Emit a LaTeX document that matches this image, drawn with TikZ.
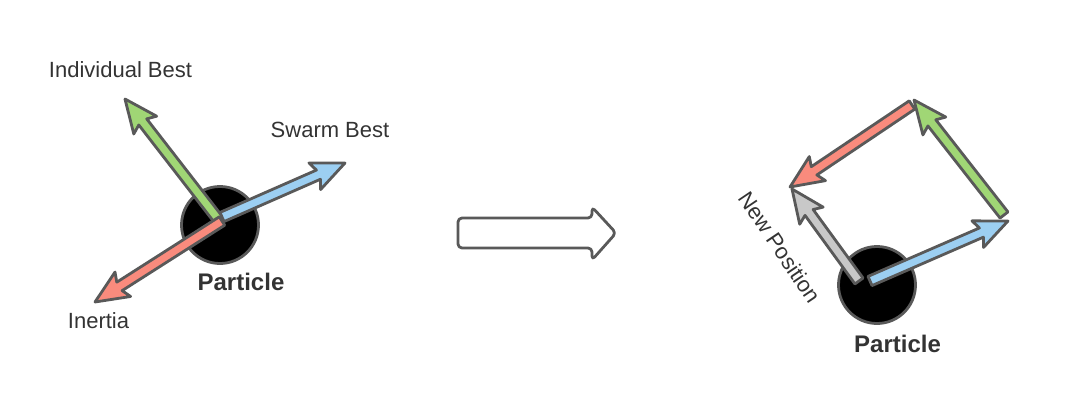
\documentclass[tikz,border=0pt]{standalone}
\usepackage{fontspec}
\setmainfont{Liberation Sans}
\usetikzlibrary{calc}
\definecolor{edgegray}{HTML}{595959}
\definecolor{txtgray}{HTML}{333333}
\definecolor{agreen}{HTML}{A0D675}
\definecolor{ablue}{HTML}{9CCFF2}
\definecolor{ared}{HTML}{F98B7D}
\definecolor{agray}{HTML}{C8C8C8}
\tikzset{
  arrowline/.style={draw=edgegray, line width=2.8pt, line join=round},
  particle/.style={circle, draw=edgegray, fill=black, line width=2.8pt, minimum size=77pt, inner sep=0pt},
  lbl/.style={text=txtgray, font=\fontsize{22}{26}\selectfont, inner sep=0pt, anchor=base},
  plbl/.style={text=txtgray, font=\bfseries\fontsize{24}{28}\selectfont, inner sep=0pt, anchor=base},
}
\newcommand{\blockarr}[3]{%
  \coordinate (h1) at ($(#3)!29pt!(#2)$);
  \coordinate (h2) at ($(#3)!33pt!(#2)$);
  \draw[arrowline, fill=#1]
    ($(#2)!5pt!90:(#3)$) -- ($(h1)!5pt!90:(#3)$) -- ($(h2)!14.5pt!90:(#3)$) -- (#3)
    -- ($(h2)!14.5pt!-90:(#3)$) -- ($(h1)!5pt!-90:(#3)$) -- ($(#2)!5pt!-90:(#3)$) -- cycle;
}
\begin{document}
\begin{tikzpicture}[x=1pt, y=-1pt]
\useasboundingbox (0,0) rectangle (1071,405);
% ---- left: particle and its three vectors
\node[particle] (p1) at (220,225) {};
\coordinate (gT1) at (218,219);
\coordinate (gH1) at (125,99);
\coordinate (bT1) at (222,217);
\coordinate (bH1) at (345,163);
\coordinate (rT1) at (222,221);
\coordinate (rH1) at (95,302);
\blockarr{agreen}{gT1}{gH1}
\blockarr{ablue}{bT1}{bH1}
\blockarr{ared}{rT1}{rH1}
\node[lbl] (ib) at (120.5,77) {Individual Best};
\node[lbl] (sb) at (330,137) {Swarm Best};
\node[lbl] (in) at (98.5,328) {Inertia};
\node[plbl] (pl1) at (241,290) {Particle};
% ---- middle hollow arrow
\draw[draw=edgegray, line width=2.8pt, rounded corners=4pt, line join=round]
  (458,218) -- (592,218) -- (592,207) -- (616,233) -- (592,260) -- (592,248) -- (458,248) -- cycle;
% ---- right: particle and the summed vectors
\node[particle] (p2) at (877,285) {};
\coordinate (yT2) at (859,281);
\coordinate (yH2) at (792,189);
\coordinate (rT2) at (912,105);
\coordinate (rH2) at (790,187);
\coordinate (gT2) at (1004,215);
\coordinate (gH2) at (914,100);
\coordinate (bT2) at (870,281);
\coordinate (bH2) at (1008,221);
\blockarr{agray}{yT2}{yH2}
\blockarr{ared}{rT2}{rH2}
\blockarr{agreen}{gT2}{gH2}
\blockarr{ablue}{bT2}{bH2}
\node[text=txtgray, font=\fontsize{22}{26}\selectfont, inner sep=0pt, rotate=-56] (np) at (780,247) {New Position};
\node[plbl] (pl2) at (897.5,352) {Particle};
\end{tikzpicture}
\end{document}
